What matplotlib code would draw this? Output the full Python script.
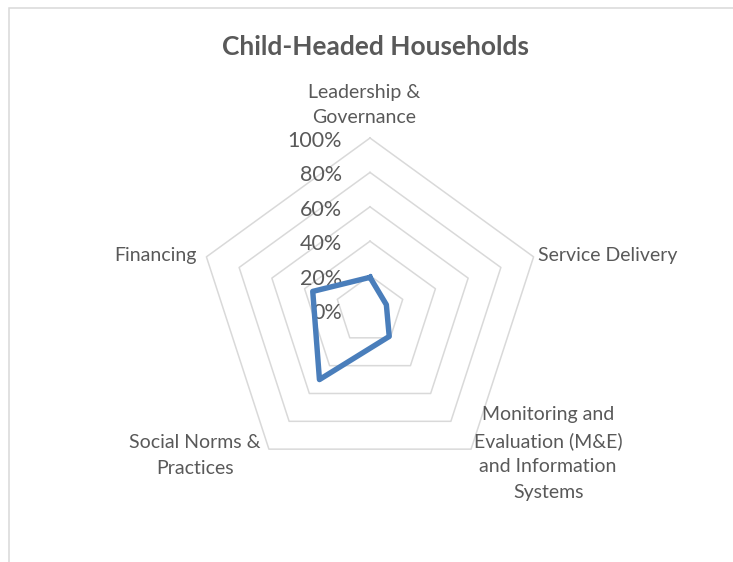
import numpy as np
import matplotlib
matplotlib.use('Agg')
from matplotlib import pyplot as plt
from matplotlib.patches import Rectangle

# data
categories = ['Leadership &\nGovernance', 'Service Delivery',
              'Monitoring and\nEvaluation (M&E)\nand Information\nSystems',
              'Social Norms &\nPractices', 'Financing']
values = [0.19, 0.10, 0.19, 0.50, 0.35]
ticks = [0.0, 0.2, 0.4, 0.6, 0.8, 1.0]
tick_labels = ['0%', '20%', '40%', '60%', '80%', '100%']
title = 'Child-Headed Households'

# label placement (pixel offsets from the outer vertex, alignment)
label_offsets = [(-6, 12, 'center', 'bottom'), (4, 1, 'left', 'center'),
                 (77, 43, 'center', 'top'), (-74, 15, 'center', 'top'),
                 (-10, 1, 'right', 'center')]

W, H, DPI = 733, 562, 100
CX, CY, R = 370, 310, 172  # centre and 100% radius in pixels
txt = '#595959'
grid = '#d9d9d9'
blue = '#4a7ebb'

plt.rcParams['font.family'] = ['Lato', 'DejaVu Sans']

fig = plt.figure(figsize=(W / DPI, H / DPI), dpi=DPI)
fig.patches.append(Rectangle((9 / W, -0.1), 1.2, 1.1 - 8 / H, transform=fig.transFigure,
                             fill=False, edgecolor=grid, linewidth=1.1))
ax = fig.add_axes([0, 0, 1, 1])
ax.set_xlim(-CX / R, (W - CX) / R)
ax.set_ylim(-(H - CY) / R, CY / R)
ax.axis('off')

n = len(categories)
ang = np.pi / 2 - 2 * np.pi * np.arange(n) / n
ang_c = np.append(ang, ang[0])

for t in ticks[1:]:
    ax.plot(t * np.cos(ang_c), t * np.sin(ang_c), color=grid, lw=1.1, zorder=1)
for t, lab in zip(ticks, tick_labels):
    ax.annotate(lab, (0, t), xytext=(-28, -3), textcoords='offset pixels',
                ha='right', va='center', fontsize=15.5, color=txt, zorder=2)

v = np.append(values, values[0])
ax.plot(v * np.cos(ang_c), v * np.sin(ang_c), color=blue, lw=3.9,
        solid_joinstyle='round', zorder=3)

for a, lab, (dx, dy, ha, va) in zip(ang, categories, label_offsets):
    ax.annotate(lab, (np.cos(a), np.sin(a)), xytext=(dx, dy), textcoords='offset pixels',
                ha=ha, va=va, multialignment='center', fontsize=14, color=txt,
                linespacing=1.6)

fig.text(376 / W, 1 - 47 / H, title, ha='center', va='center', fontsize=19,
         fontweight='bold', color=txt)

fig.savefig('out.png', dpi=DPI)
